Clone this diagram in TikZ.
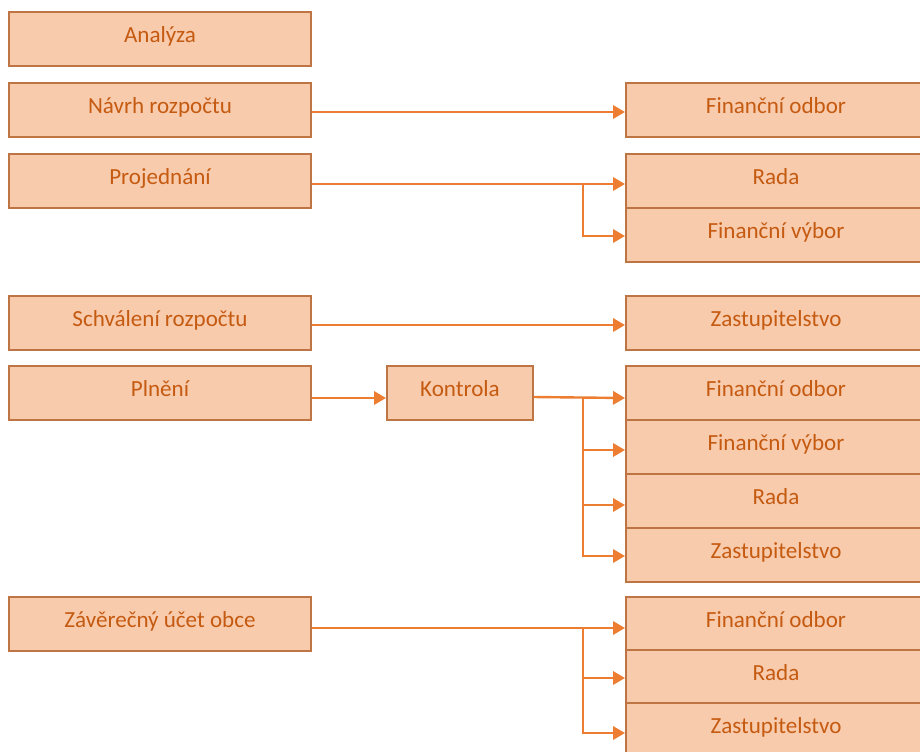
\documentclass[tikz,border=0pt]{standalone}
\usepackage{fontspec}
\setmainfont{Carlito}
\usetikzlibrary{arrows.meta,calc}
\definecolor{boxfill}{HTML}{F8CBAD}
\definecolor{boxline}{HTML}{BF7543}
\definecolor{boxtext}{HTML}{C55A11}
\definecolor{arrowcol}{HTML}{ED7D31}
\begin{document}
\begin{tikzpicture}[x=0.75pt,y=-0.75pt,
  stage/.style={draw=boxline, fill=boxfill, text=boxtext, line width=1.5pt,
    minimum width=226.5pt, minimum height=40.5pt, inner sep=0pt,
    anchor=north west, font=\fontsize{17.3}{20}\selectfont,
    text height=12.5pt, text depth=7pt},
  body/.style={stage, minimum width=225pt},
  check/.style={stage, minimum width=109.5pt},
  link/.style={draw=arrowcol, line width=1.8pt},
  arr/.style={link, -{Triangle[length=9pt,width=10pt]}}]
\useasboundingbox (0,0) rectangle (920,751);

% process stages (left column)
\node[stage] (analyza)  at (8,11)  {Analýza};
\node[stage] (navrh)    at (8,82)  {Návrh rozpočtu};
\node[stage] (proj)     at (8,153) {Projednání};
\node[stage] (schval)   at (8,295) {Schválení rozpočtu};
\node[stage] (plneni)   at (8,365) {Plnění};
\node[stage] (zaver)    at (8,596) {Závěrečný účet obce};

% control step
\node[check] (kontrola) at (386,365) {Kontrola};

% responsible bodies (right column)
\node[body] (fo1)   at (625,82)  {Finanční odbor};
\node[body] (rada1) at (625,153) {Rada};
\node[body] (fv1)   at (625,207) {Finanční výbor};
\node[body] (zast1) at (625,295) {Zastupitelstvo};
\node[body] (fo2)   at (625,365) {Finanční odbor};
\node[body] (fv2)   at (625,419) {Finanční výbor};
\node[body] (rada2) at (625,473) {Rada};
\node[body] (zast2) at (625,527) {Zastupitelstvo};
\node[body] (fo3)   at (625,596) {Finanční odbor};
\node[body] (rada3) at (625,649) {Rada};
\node[body] (zast3) at (625,702) {Zastupitelstvo};

% Návrh rozpočtu -> Finanční odbor
\draw[arr] ($(navrh.east)+(0,2)$) -- ($(fo1.west)+(0,2)$);

% Projednání -> Rada, Finanční výbor
\coordinate (j1) at ($(rada1.west)+(-42,3)$);
\draw[arr] ($(proj.east)+(0,3)$) -- ($(rada1.west)+(0,3)$);
\draw[arr] (j1) |- ($(fv1.west)+(0,1)$);

% Schválení rozpočtu -> Zastupitelstvo
\draw[arr] ($(schval.east)+(0,2)$) -- ($(zast1.west)+(0,2)$);

% Plnění -> Kontrola -> bodies
\draw[arr] ($(plneni.east)+(0,5)$) -- ($(kontrola.west)+(0,5)$);
\coordinate (j2) at ($(fo2.west)+(-42,5)$);
\draw[arr] ($(kontrola.east)+(0,4)$) -- ($(fo2.west)+(0,5)$);
\draw[arr] (j2) |- ($(fv2.west)+(0,3)$);
\draw[arr] (j2) |- ($(rada2.west)+(0,4)$);
\draw[arr] (j2) |- ($(zast2.west)+(0,1)$);

% Závěrečný účet obce -> bodies
\coordinate (j3) at ($(fo3.west)+(-42,4)$);
\draw[arr] ($(zaver.east)+(0,4)$) -- ($(fo3.west)+(0,4)$);
\draw[arr] (j3) |- ($(rada3.west)+(0,1)$);
\draw[arr] (j3) |- ($(zast3.west)+(0,3)$);
\end{tikzpicture}
\end{document}
